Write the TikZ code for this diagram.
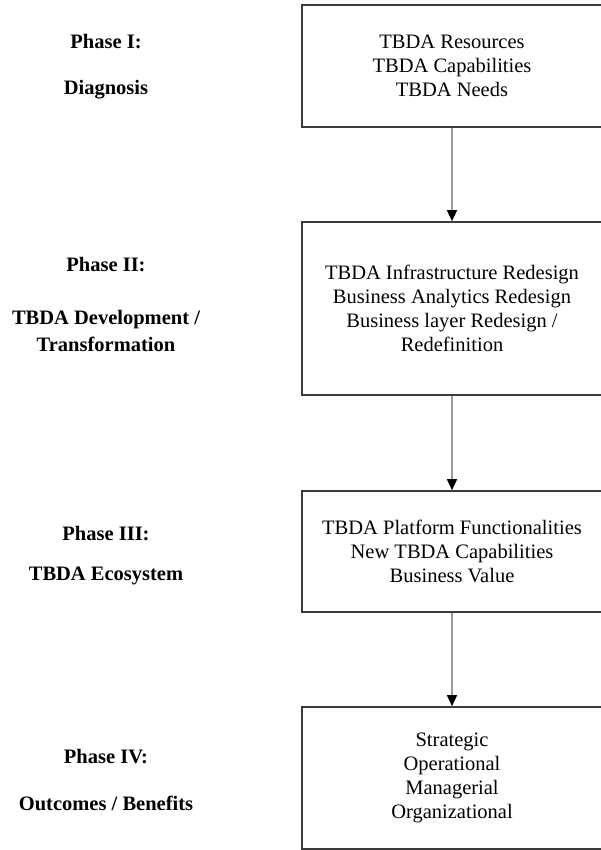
\documentclass[tikz,border=0pt]{standalone}
\usepackage{fontspec}
\setmainfont{Liberation Serif}
\usepackage{tikz}
\usetikzlibrary{arrows.meta,positioning}
\definecolor{BoxLine}{HTML}{3A3A3A}
\definecolor{ArrowGray}{HTML}{9A9A9A}
\tikzset{
    % Stage box on the right
    stagebox/.style={
        draw=BoxLine,
        fill=white,
        line width=1.6pt,
        minimum width=300pt,
        align=center,
        inner sep=0pt,
        font=\fontsize{20.5}{24}\selectfont
    },
    % Phase label on the left
    phaselabel/.style={
        align=center,
        inner sep=0pt,
        font=\bfseries\fontsize{20.5}{27}\selectfont
    },
    % Arrow between stages
    flowarrow/.style={
        -{Triangle[width=10pt,length=11pt,color=black]},
        line width=1.3pt,
        draw=ArrowGray
    }
}
\begin{document}
\begin{tikzpicture}[x=1pt,y=-1pt]
    \useasboundingbox (0,0) rectangle (601,850);
    % stages
    \node[stagebox,minimum height=122pt] (s1) at (452,66) {TBDA Resources\\TBDA Capabilities\\TBDA Needs};
    \node[stagebox,minimum height=173pt] (s2) at (452,308.5) {TBDA Infrastructure Redesign\\Business Analytics Redesign\\Business layer Redesign /\\Redefinition};
    \node[stagebox,minimum height=121pt] (s3) at (452,551.5) {TBDA Platform Functionalities\\New TBDA Capabilities\\Business Value};
    \node[stagebox,minimum height=142pt] (s4) at (452,778) {Strategic\\Operational\\Managerial\\Organizational};
    \draw[flowarrow] (s1) -- (s2);
    \draw[flowarrow] (s2) -- (s3);
    \draw[flowarrow] (s3) -- (s4);
    % phase labels
    \node[phaselabel] (p1) at (106,42) {Phase I:};
    \node[phaselabel] (p1t) at (106,90) {Diagnosis};
    \node[phaselabel] (p2) at (106,265) {Phase II:};
    \node[phaselabel] (p2t) at (106,331) {TBDA Development /\\Transformation};
    \node[phaselabel] (p3) at (106,534) {Phase III:};
    \node[phaselabel] (p3t) at (106,576) {TBDA Ecosystem};
    \node[phaselabel] (p4) at (106,757) {Phase IV:};
    \node[phaselabel] (p4t) at (106,803) {Outcomes / Benefits};
\end{tikzpicture}
\end{document}
